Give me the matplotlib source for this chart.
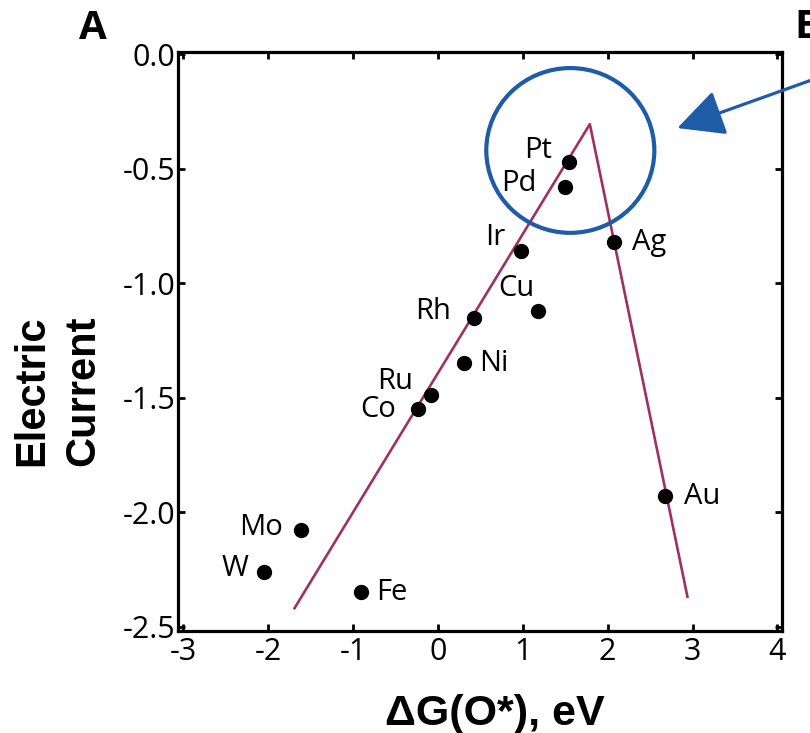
import matplotlib
matplotlib.use("Agg")
import matplotlib.pyplot as plt
from matplotlib.patches import Ellipse, FancyArrowPatch

plt.rcParams['axes.unicode_minus'] = False

# metals: adsorption energy vs current
metals = ['Pt', 'Pd', 'Ir', 'Cu', 'Rh', 'Ag', 'Ni', 'Ru', 'Co', 'Mo', 'W', 'Fe', 'Au']
dg_o = [1.54, 1.50, 0.98, 1.18, 0.42, 2.08, 0.31, -0.08, -0.24, -1.61, -2.05, -0.91, 2.68]
current = [-0.47, -0.58, -0.86, -1.12, -1.15, -0.82, -1.35, -1.49, -1.55, -2.08, -2.26, -2.35, -1.93]

# volcano lines
volcano_x = [-1.69, 1.79, 2.94]
volcano_y = [-2.42, -0.305, -2.37]

xticks = [-3, -2, -1, 0, 1, 2, 3, 4]
yticks = [0.0, -0.5, -1.0, -1.5, -2.0, -2.5]

# label offsets in pixels (dx, dy)
offsets = {
    'Pt': (-31, 11), 'Pd': (-46, 4), 'Ir': (-26, 14), 'Cu': (-22, 22),
    'Rh': (-40, 6), 'Ag': (35, 0), 'Ni': (30, 0), 'Ru': (-36, 14),
    'Co': (-39, 0), 'Mo': (-40, 3), 'W': (-29, 3), 'Fe': (31, 0), 'Au': (37, 0),
}

fig = plt.figure(figsize=(8.1, 7.33), dpi=100)
ax = fig.add_axes([0.22, 0.139, 0.745, 0.79])

ax.plot(volcano_x, volcano_y, color='#a0305f', lw=1.9, zorder=2)
ax.plot(dg_o, current, 'o', color='black', ms=10, zorder=3)

for m, x, y in zip(metals, dg_o, current):
    ax.annotate(m, (x, y), xytext=offsets[m], textcoords='offset pixels',
                ha='center', va='center', fontsize=21, family='Open Sans')

# highlight circle
ax.add_patch(Ellipse((1.56, -0.42), 1.98, 0.72, fill=False,
                     edgecolor='#1f5ca8', lw=3, zorder=4))

ax.set_xlim(-3.06, 4.05)
ax.set_ylim(-2.52, 0.01)
ax.set_xticks(xticks)
ax.set_yticks(yticks)
ax.set_xticklabels([str(t) for t in xticks], family='Open Sans')
ax.set_yticklabels(['%.1f' % t for t in yticks], family='Open Sans')
ax.tick_params(direction='in', top=True, right=True, length=5, width=2,
               labelsize=22)
ax.tick_params(axis='x', pad=4)
ax.tick_params(axis='y', pad=2)
for s in ax.spines.values():
    s.set_linewidth(2.3)

fig.text(0.611, 0.011, 'ΔG(O*), eV', ha='center', va='baseline',
         fontsize=31, fontweight='bold', family='Liberation Sans')
fig.text(0.071, 0.4666, 'Electric\nCurrent', ha='center', va='center',
         rotation=90, fontsize=30, fontweight='bold', family='Liberation Sans',
         linespacing=1.35)

fig.text(0.115, 0.961, 'A', ha='center', va='center', fontsize=29,
         fontweight='bold', family='Open Sans')
fig.text(0.981, 0.962, 'B', ha='left', va='center', fontsize=29,
         fontweight='bold', family='Open Sans')

# arrow pointing at the circle
fig.patches.append(FancyArrowPatch(
    (1.01, 0.894), (0.833, 0.824), transform=fig.transFigure,
    arrowstyle='-|>,head_length=1.2,head_width=0.6', mutation_scale=24,
    color='#1f5ca8', lw=2.3, figure=fig))

fig.savefig('out.png', dpi=100)
